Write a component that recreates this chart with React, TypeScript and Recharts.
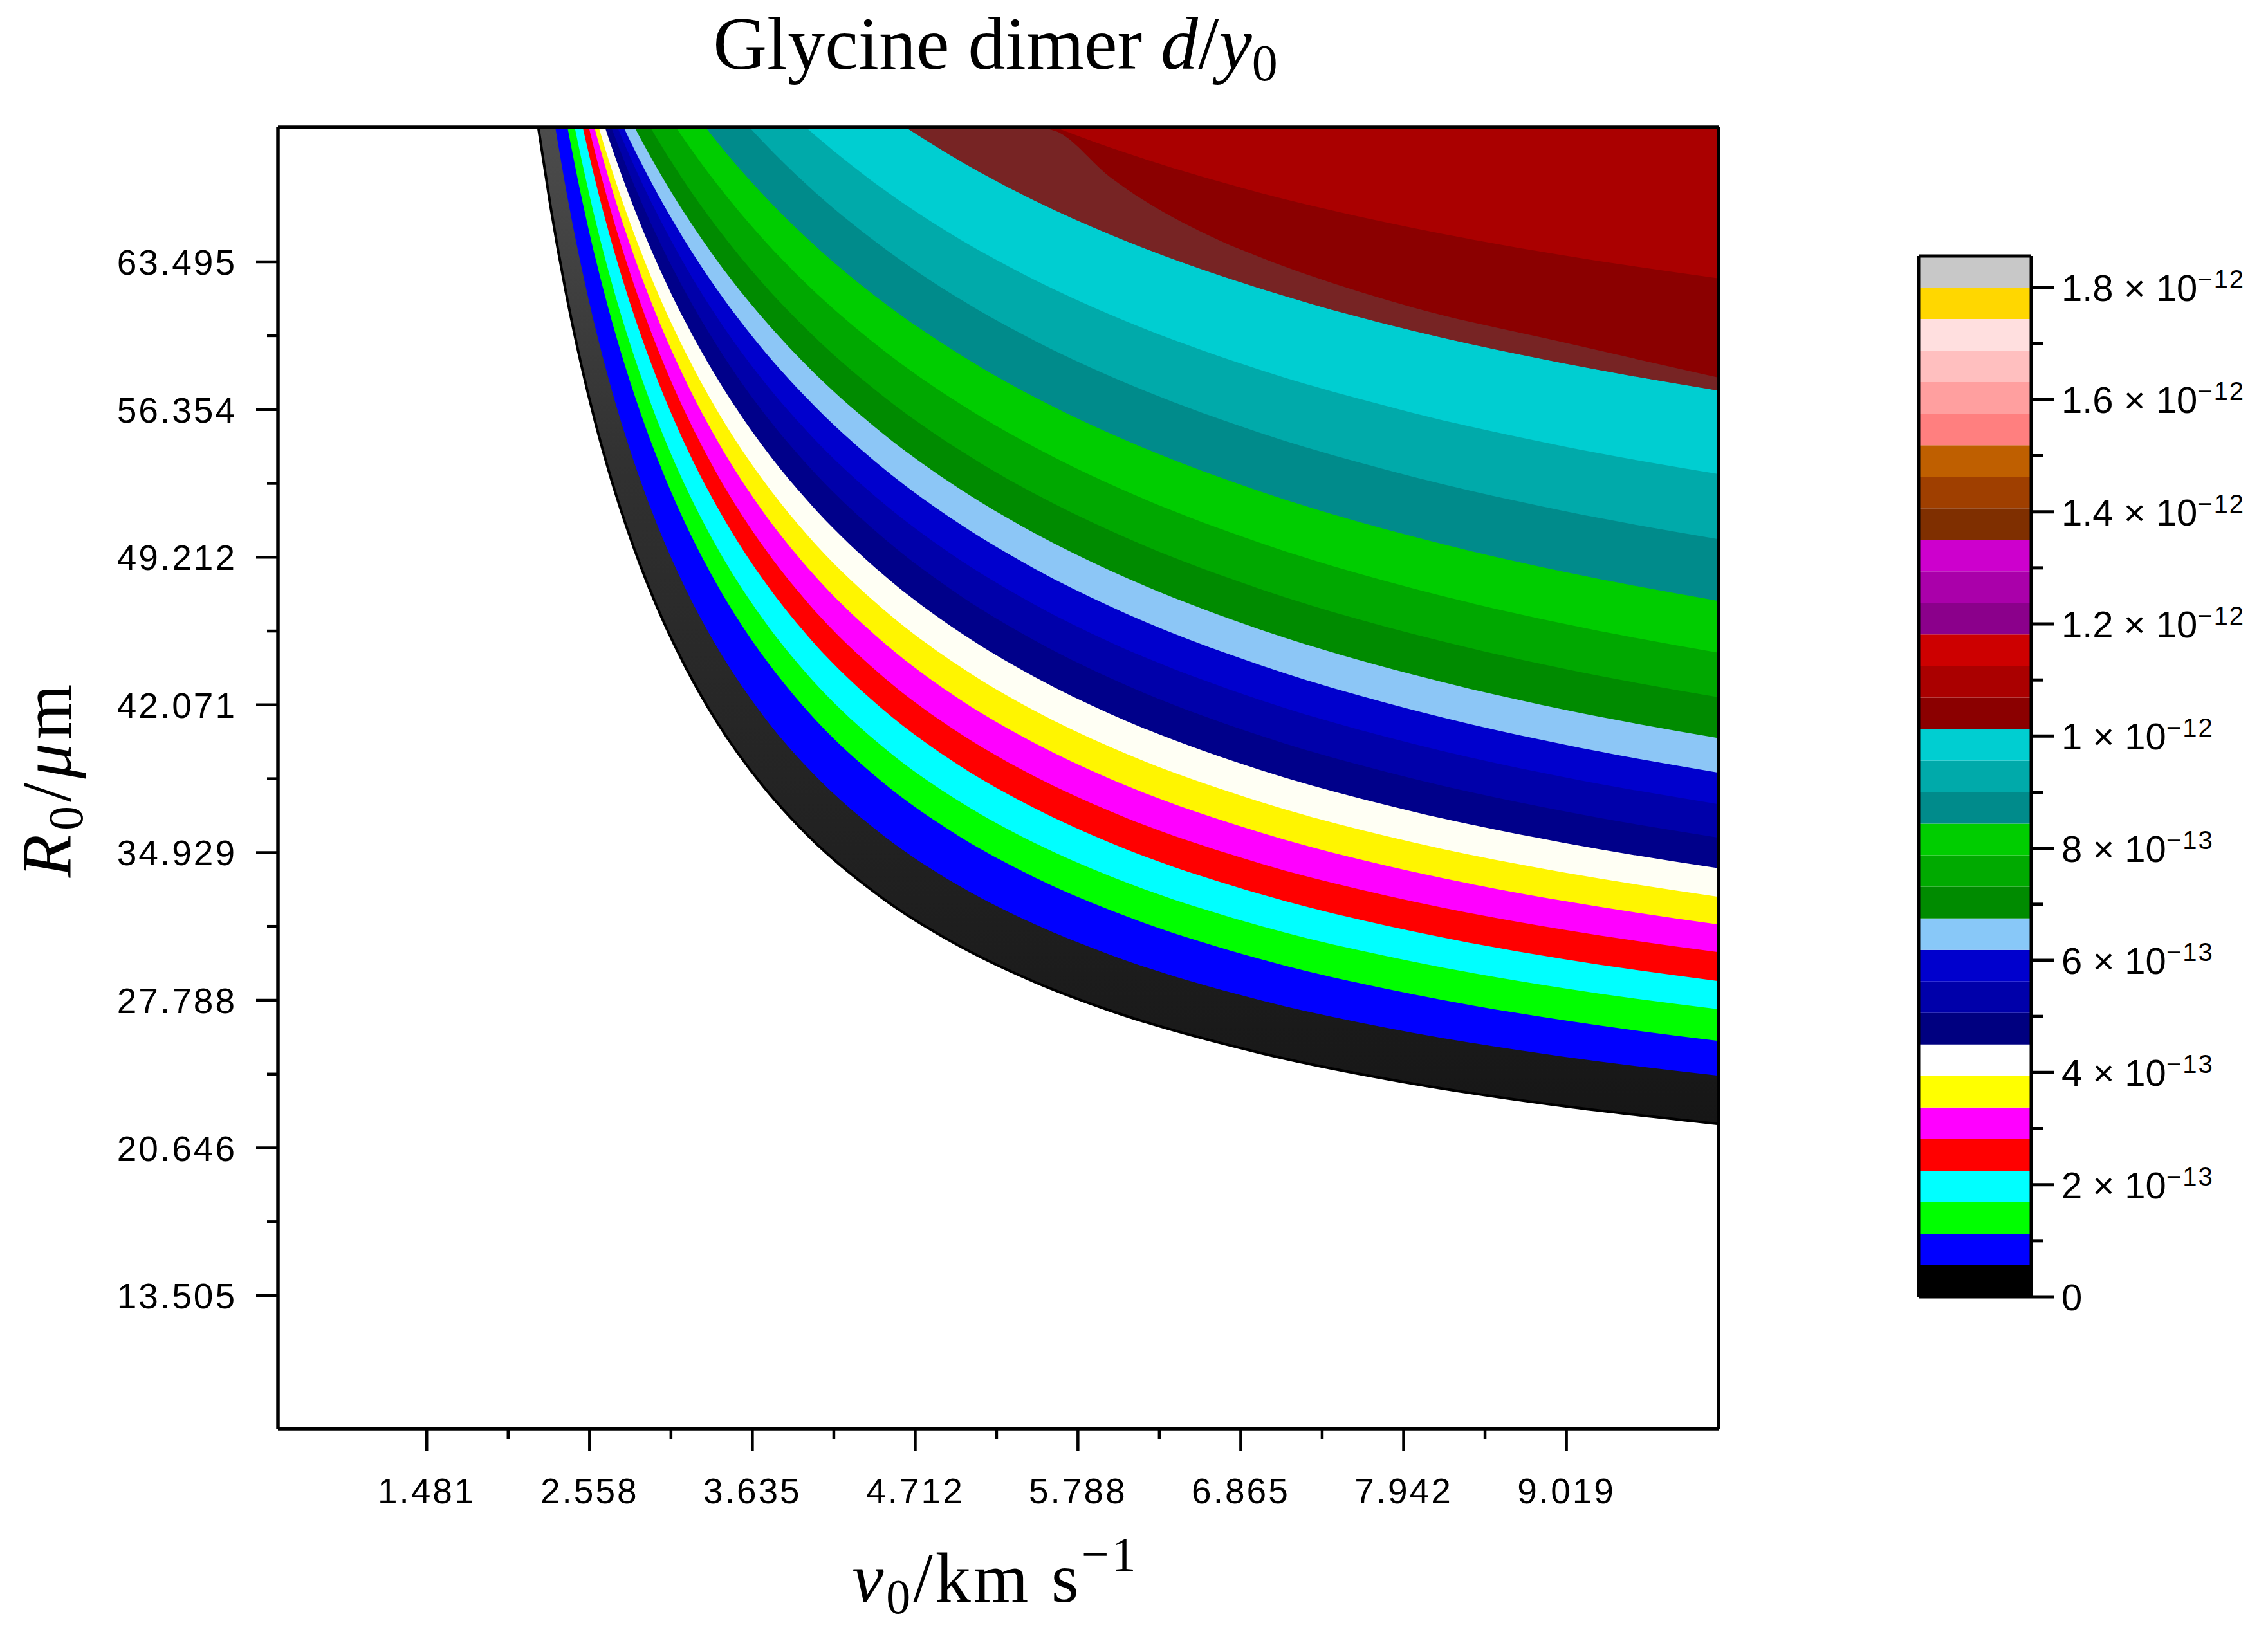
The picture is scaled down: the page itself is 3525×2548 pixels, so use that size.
import React from 'react';
import { ComposedChart, Area, XAxis, YAxis, BarChart, Bar } from 'recharts';

// ---------- axes ----------
const X_DOMAIN: [number, number] = [0.497, 10.025];
const Y_DOMAIN: [number, number] = [7.07, 70.0];
const Y_TOP = 70.0;
const X_TICKS = [1.481, 2.558, 3.635, 4.712, 5.788, 6.865, 7.942, 9.019];
const X_TICK_LABELS = ['1.481', '2.558', '3.635', '4.712', '5.788', '6.865', '7.942', '9.019'];
const X_MINOR = [2.0195, 3.0965, 4.1735, 5.25, 6.3265, 7.4035, 8.4805];
const Y_TICKS = [13.505, 20.646, 27.788, 34.929, 42.071, 49.212, 56.354, 63.495];
const Y_TICK_LABELS = ['13.505', '20.646', '27.788', '34.929', '42.071', '49.212', '56.354', '63.495'];
const Y_MINOR = [17.0755, 24.217, 31.3585, 38.5, 45.6415, 52.783, 59.9245];

// ---------- contour boundaries (lower edge of each colour band), [v0, R0] ----------
const C0 = [[2.219, 70], [2.3, 66.17], [2.4, 62.09], [2.5, 58.62], [2.6, 55.62], [2.7, 53.02], [2.8, 50.73], [2.9, 48.7], [3.0, 46.89], [3.2, 43.8], [3.4, 41.25], [3.7, 38.19], [4.0, 35.77], [4.5, 32.7], [5.0, 30.43], [5.5, 28.68], [6.0, 27.29], [7.0, 25.23], [8.0, 23.76], [9.0, 22.67], [10.025, 21.81]];
const C1 = [[2.3315, 70], [2.4, 67.1], [2.5, 63.4], [2.6, 60.2], [2.7, 57.42], [2.8, 54.98], [2.9, 52.81], [3.0, 50.88], [3.2, 47.59], [3.4, 44.88], [3.7, 41.61], [4.0, 39.03], [4.5, 35.76], [5.0, 33.33], [5.5, 31.47], [6.0, 29.99], [7.0, 27.78], [8.0, 26.22], [9.0, 25.06], [10.025, 24.14]];
const C2 = [[2.412, 70], [2.5, 66.79], [2.6, 63.59], [2.7, 60.78], [2.8, 58.3], [2.9, 56.09], [3.0, 54.11], [3.2, 50.71], [3.4, 47.9], [3.7, 44.49], [4.0, 41.77], [4.5, 38.31], [5.0, 35.73], [5.5, 33.74], [6.0, 32.15], [7.0, 29.77], [8.0, 28.08], [9.0, 26.82], [10.025, 25.82]];
const C3 = [[2.46, 70], [2.5, 68.61], [2.6, 65.41], [2.7, 62.61], [2.8, 60.13], [2.9, 57.92], [3.0, 55.94], [3.2, 52.53], [3.4, 49.7], [3.7, 46.27], [4.0, 43.53], [4.5, 40.03], [5.0, 37.42], [5.5, 35.4], [6.0, 33.79], [7.0, 31.37], [8.0, 29.66], [9.0, 28.37], [10.025, 27.35]];
const C4 = [[2.513, 70], [2.6, 67.3], [2.7, 64.54], [2.8, 62.09], [2.9, 59.89], [3.0, 57.92], [3.2, 54.51], [3.4, 51.67], [3.7, 48.19], [4.0, 45.41], [4.5, 41.84], [5.0, 39.16], [5.5, 37.08], [6.0, 35.41], [7.0, 32.91], [8.0, 31.12], [9.0, 29.78], [10.025, 28.71]];
const C5 = [[2.5535, 70], [2.6, 68.63], [2.7, 65.94], [2.8, 63.54], [2.9, 61.39], [3.0, 59.45], [3.2, 56.08], [3.4, 53.26], [3.7, 49.8], [4.0, 47.02], [4.5, 43.43], [5.0, 40.73], [5.5, 38.62], [6.0, 36.93], [7.0, 34.39], [8.0, 32.57], [9.0, 31.2], [10.025, 30.11]];
const C6 = [[2.59, 70], [2.6, 69.73], [2.7, 67.17], [2.8, 64.88], [2.9, 62.81], [3.0, 60.93], [3.2, 57.65], [3.4, 54.89], [3.7, 51.47], [4.0, 48.71], [4.5, 45.11], [5.0, 42.37], [5.5, 40.23], [6.0, 38.5], [7.0, 35.89], [8.0, 34.01], [9.0, 32.59], [10.025, 31.45]];
const C7 = [[2.619, 70], [2.7, 68.07], [2.8, 65.91], [2.9, 63.95], [3.0, 62.15], [3.2, 59.01], [3.4, 56.33], [3.7, 53.0], [4.0, 50.27], [4.5, 46.7], [5.0, 43.96], [5.5, 41.79], [6.0, 40.04], [7.0, 37.37], [8.0, 35.43], [9.0, 33.97], [10.025, 32.79]];
const C8 = [[2.66, 70], [2.7, 69.14], [2.8, 67.09], [2.9, 65.22], [3.0, 63.51], [3.2, 60.48], [3.4, 57.89], [3.7, 54.62], [4.0, 51.94], [4.5, 48.37], [5.0, 45.62], [5.5, 43.43], [6.0, 41.64], [7.0, 38.91], [8.0, 36.92], [9.0, 35.4], [10.025, 34.17]];
const C9 = [[2.702, 70], [2.8, 68.14], [2.9, 66.4], [3.0, 64.79], [3.2, 61.93], [3.4, 59.45], [3.7, 56.29], [4.0, 53.67], [4.5, 50.15], [5.0, 47.4], [5.5, 45.19], [6.0, 43.37], [7.0, 40.57], [8.0, 38.51], [9.0, 36.93], [10.025, 35.65]];
const C10 = [[2.743, 70], [2.8, 69.01], [2.9, 67.39], [3.0, 65.89], [3.2, 63.19], [3.4, 60.83], [3.7, 57.81], [4.0, 55.27], [4.5, 51.83], [5.0, 49.12], [5.5, 46.93], [6.0, 45.11], [7.0, 42.29], [8.0, 40.2], [9.0, 38.58], [10.025, 37.27]];
const C11 = [[2.784, 70], [2.8, 69.75], [2.9, 68.27], [3.0, 66.89], [3.2, 64.38], [3.4, 62.17], [3.7, 59.3], [4.0, 56.87], [4.5, 53.52], [5.0, 50.85], [5.5, 48.66], [6.0, 46.84], [7.0, 43.98], [8.0, 41.83], [9.0, 40.16], [10.025, 38.79]];
const C12 = [[2.856, 70], [2.9, 69.39], [3.0, 68.08], [3.2, 65.69], [3.4, 63.57], [3.7, 60.81], [4.0, 58.44], [4.5, 55.18], [5.0, 52.55], [5.5, 50.38], [6.0, 48.57], [7.0, 45.7], [8.0, 43.54], [9.0, 41.85], [10.025, 40.46]];
const C13 = [[2.96, 70], [3.0, 69.51], [3.2, 67.21], [3.4, 65.17], [3.7, 62.49], [4.0, 60.19], [4.5, 57.0], [5.0, 54.42], [5.5, 52.29], [6.0, 50.5], [7.0, 47.66], [8.0, 45.51], [9.0, 43.82], [10.025, 42.44]];
const C14 = [[3.13, 70], [3.2, 69.25], [3.4, 67.26], [3.7, 64.64], [4.0, 62.38], [4.5, 59.23], [5.0, 56.67], [5.5, 54.54], [6.0, 52.75], [7.0, 49.89], [8.0, 47.71], [9.0, 46.0], [10.025, 44.59]];
const C15 = [[3.325, 70], [3.4, 69.31], [3.7, 66.79], [4.0, 64.61], [4.5, 61.55], [5.0, 59.05], [5.5, 56.96], [6.0, 55.2], [7.0, 52.38], [8.0, 50.22], [9.0, 48.51], [10.025, 47.1]];
const C16 = [[3.616, 70], [3.7, 69.34], [4.0, 67.19], [4.5, 64.19], [5.0, 61.73], [5.5, 59.69], [6.0, 57.97], [7.0, 55.21], [8.0, 53.11], [9.0, 51.45], [10.025, 50.08]];
const C17 = [[3.989, 70], [4.0, 69.93], [4.5, 67.01], [5.0, 64.62], [5.5, 62.63], [6.0, 60.95], [7.0, 58.26], [8.0, 56.2], [9.0, 54.57], [10.025, 53.23]];
const C18 = [[4.6485, 70], [5.0, 68.41], [5.5, 66.46], [6.0, 64.82], [6.5, 63.41], [7.0, 62.19], [8.0, 60.17], [9.0, 58.59], [10.025, 57.27]];
const C19 = [[5.639, 70], [6.0, 69.03], [6.5, 67.85], [7.0, 66.82], [8.0, 65.14], [9.0, 63.81], [10.025, 62.7]];
const CONTOURS = [C0, C1, C2, C3, C4, C5, C6, C7, C8, C9, C10, C11, C12, C13, C14, C15, C16, C17, C18, C19];

// greyish rendering artefact wedge along the dark-red edge: [v0, low, high]
const WEDGE = [[4.6485, 70, 70], [5.0, 68.41, 70], [5.5, 66.46, 70], [5.639, 65.98, 69.82], [6.0, 64.82, 67.6], [6.733, 62.82, 64.5], [7.0, 62.19, 63.7], [8.0, 60.17, 61.3], [9.0, 58.59, 59.6], [10.025, 57.27, 57.9]];

// ---------- colour levels ----------
const BAND_COLORS = [
  '#000000', '#0000FF', '#00FF00', '#00FFFF', '#FF0000', '#FF00FF', '#FFFF00', '#FFFFFF',
  '#000080', '#0000AA', '#0000CD', '#88C8F8', '#008B00', '#00AA00', '#00CD00', '#008B8B',
  '#00AAAA', '#00CED1', '#8B0000', '#AA0000', '#CD0000', '#8B008B', '#AA00AA', '#CD00CD',
  '#7F2F00', '#9F3F00', '#BF5F00', '#FF7F7F', '#FF9F9F', '#FFBFBF', '#FFDFDF', '#FFD700', '#C8C8C8',
];
const PLOT_FILLS = ['url(#blackBand)', '#0000FF', '#00FF00', '#00FFFF', '#FF0000', '#FF00FF', '#FFF500', '#FFFFF4',
  '#00008A', '#0000AA', '#0000CD', '#8CC6F6', '#008B00', '#00A800', '#00CD00', '#008B8B', '#00AAAA', '#00CED1', '#8B0000', '#AA0000'];
const CB_STEP = 0.5625; // in units of 1e-13
const CB_MAX = 18.5625;
const CB_TICKS = [0, 1, 2, 3, 4, 5, 6, 7, 8, 9, 10, 11, 12, 13, 14, 15, 16, 17, 18];
const CB_MANTISSA = ['0', '2', '4', '6', '8', '1', '1.2', '1.4', '1.6', '1.8'];
const CB_EXP = ['', '\u221213', '\u221213', '\u221213', '\u221213', '\u221212', '\u221212', '\u221212', '\u221212', '\u221212'];

const SANS = "'Liberation Sans', Arial, sans-serif";
const SERIF = "'Liberation Serif', 'Times New Roman', serif";

const XTick = (p: any) => {
  const { x, y, payload } = p;
  const i = X_TICKS.indexOf(payload.value);
  const major = i >= 0;
  return (
    <g>
      <line x1={x} x2={x} y1={y} y2={y + (major ? 34 : 16)} stroke="#000" strokeWidth={4.5} />
      {major && (
        <text x={x} y={y + 116} textAnchor="middle" fontFamily={SANS} fontSize={55} letterSpacing={3} fill="#000">
          {X_TICK_LABELS[i]}
        </text>
      )}
    </g>
  );
};

const YTick = (p: any) => {
  const { x, y, payload } = p;
  const i = Y_TICKS.indexOf(payload.value);
  const major = i >= 0;
  return (
    <g>
      <line x1={x} x2={x - (major ? 34 : 17)} y1={y} y2={y} stroke="#000" strokeWidth={4.5} />
      {major && (
        <text x={x - 64} y={y + 20} textAnchor="end" fontFamily={SANS} fontSize={55} letterSpacing={3} fill="#000">
          {Y_TICK_LABELS[i]}
        </text>
      )}
    </g>
  );
};

const CbTick = (p: any) => {
  const { x, y, payload } = p;
  const v = payload.value;
  const major = v % 2 === 0;
  const li = v / 2;
  return (
    <g>
      <line x1={x} x2={x + (major ? 35 : 18)} y1={y} y2={y} stroke="#000" strokeWidth={5} />
      {major && (
        <text x={x + 47} y={y + 21} fontFamily={SANS} fontSize={58} fill="#000">
          <tspan>{CB_MANTISSA[li]}</tspan>
          {CB_EXP[li] !== '' && <tspan>{' \u00d7 10'}</tspan>}
          {CB_EXP[li] !== '' && (
            <tspan fontSize={40} dy={-20} letterSpacing={2}>
              {CB_EXP[li]}
            </tspan>
          )}
        </text>
      )}
    </g>
  );
};

const frame = { stroke: '#000', strokeWidth: 5.5 };

export default function App() {
  const xAll = [...X_TICKS, ...X_MINOR].sort((a, b) => a - b);
  const yAll = [...Y_TICKS, ...Y_MINOR].sort((a, b) => a - b);
  const cbRow: any = { name: 'cb' };
  BAND_COLORS.forEach((_, i) => {
    cbRow['b' + i] = CB_STEP;
  });
  const wedgeData = WEDGE.map(([x, lo, hi]) => ({ x, r: [lo, hi] }));

  return (
    <div style={{ position: 'relative', width: 3509, height: 2532, background: '#fff' }}>
      <div style={{ position: 'absolute', left: 0, top: 0 }}>
        <ComposedChart width={2700} height={2373} margin={{ top: 189, right: 36, bottom: 10, left: 124 }}>
          <defs>
            <linearGradient id="blackBand" x1="0" y1="0" x2="0" y2="1">
              <stop offset="0" stopColor="#4c4c4c" />
              <stop offset="0.35" stopColor="#303030" />
              <stop offset="1" stopColor="#161616" />
            </linearGradient>
          </defs>
          {CONTOURS.map((c, k) => (
            <Area
              key={'c' + k}
              xAxisId="main"
              yAxisId="main"
              data={c.map(([x, y]) => ({ x, y }))}
              dataKey="y"
              type="monotone"
              baseValue={Y_TOP}
              fill={PLOT_FILLS[k]}
              fillOpacity={1}
              stroke={k === 0 ? '#000' : 'none'}
              strokeWidth={k === 0 ? 4 : 0}
              dot={false}
              activeDot={false}
              isAnimationActive={false}
            />
          ))}
          <Area
            xAxisId="main"
            yAxisId="main"
            data={wedgeData}
            dataKey="r"
            type="monotone"
            fill="#6a3c3c"
            fillOpacity={0.6}
            stroke="none"
            dot={false}
            activeDot={false}
            isAnimationActive={false}
          />
          <XAxis
            xAxisId="main"
            type="number"
            dataKey="x"
            domain={X_DOMAIN}
            allowDataOverflow
            ticks={xAll}
            interval={0}
            tickSize={0}
            tickMargin={0}
            tickLine={false}
            tick={(p: any) => <XTick {...p} />}
            axisLine={frame}
            height={150}
          />
          <XAxis xAxisId="top" orientation="top" type="number" domain={X_DOMAIN} allowDataOverflow height={1} tick={false} tickLine={false} axisLine={frame} />
          <YAxis
            yAxisId="main"
            type="number"
            domain={Y_DOMAIN}
            allowDataOverflow
            ticks={yAll}
            interval={0}
            tickSize={0}
            tickMargin={0}
            tickLine={false}
            tick={(p: any) => <YTick {...p} />}
            axisLine={frame}
            width={300}
          />
          <YAxis yAxisId="right" orientation="right" type="number" domain={Y_DOMAIN} allowDataOverflow width={1} tick={false} tickLine={false} axisLine={frame} />
        </ComposedChart>
      </div>

      <div style={{ position: 'absolute', left: 2953, top: 369 }}>
        <BarChart width={546} height={1700} data={[cbRow]} margin={{ top: 20, right: 10, bottom: 60, left: 20 }} barCategoryGap={0} barGap={0}>
          {BAND_COLORS.map((c, i) => (
            <Bar key={'b' + i} xAxisId="b" yAxisId="r" dataKey={'b' + i} stackId="s" fill={c} isAnimationActive={false} />
          ))}
          <XAxis xAxisId="b" dataKey="name" height={1} tick={false} tickLine={false} axisLine={{ stroke: '#000', strokeWidth: 5 }} />
          <XAxis xAxisId="t" dataKey="name" orientation="top" height={1} tick={false} tickLine={false} axisLine={{ stroke: '#000', strokeWidth: 5 }} />
          <YAxis yAxisId="l" type="number" domain={[0, CB_MAX]} allowDataOverflow width={1} tick={false} tickLine={false} axisLine={{ stroke: '#000', strokeWidth: 5 }} />
          <YAxis
            yAxisId="r"
            orientation="right"
            type="number"
            domain={[0, CB_MAX]}
            allowDataOverflow
            ticks={CB_TICKS}
            interval={0}
            tickSize={0}
            tickMargin={0}
            tickLine={false}
            tick={(p: any) => <CbTick {...p} />}
            axisLine={{ stroke: '#000', strokeWidth: 5 }}
            width={340}
          />
        </BarChart>
      </div>

      <svg width={3525} height={2548} style={{ position: 'absolute', left: -8, top: -8, pointerEvents: 'none' }}>
        <text x={1547} y={107} textAnchor="middle" fontFamily={SERIF} fontSize={116} fill="#000">
          {'Glycine dimer '}
          <tspan fontStyle="italic">d</tspan>
          <tspan>/</tspan>
          <tspan fontStyle="italic">y</tspan>
          <tspan fontSize={80} dy={18}>0</tspan>
        </text>
        <text x={1547} y={2490} textAnchor="middle" fontFamily={SERIF} fontSize={110} letterSpacing={4} fill="#000">
          <tspan fontStyle="italic">v</tspan>
          <tspan fontSize={76} dy={18}>0</tspan>
          <tspan dy={-18}>{'/km s'}</tspan>
          <tspan fontSize={76} dy={-48}>{'\u22121'}</tspan>
        </text>
        <text
          x={110}
          y={1211}
          textAnchor="middle"
          transform="rotate(-90 110 1211)"
          fontFamily={SERIF}
          fontSize={110}
          letterSpacing={6}
          fill="#000"
        >
          <tspan fontStyle="italic">R</tspan>
          <tspan fontSize={76} dy={18}>0</tspan>
          <tspan dy={-18}>/</tspan>
          <tspan fontStyle="italic">{'\u03bc'}</tspan>
          <tspan>m</tspan>
        </text>
      </svg>
    </div>
  );
}
